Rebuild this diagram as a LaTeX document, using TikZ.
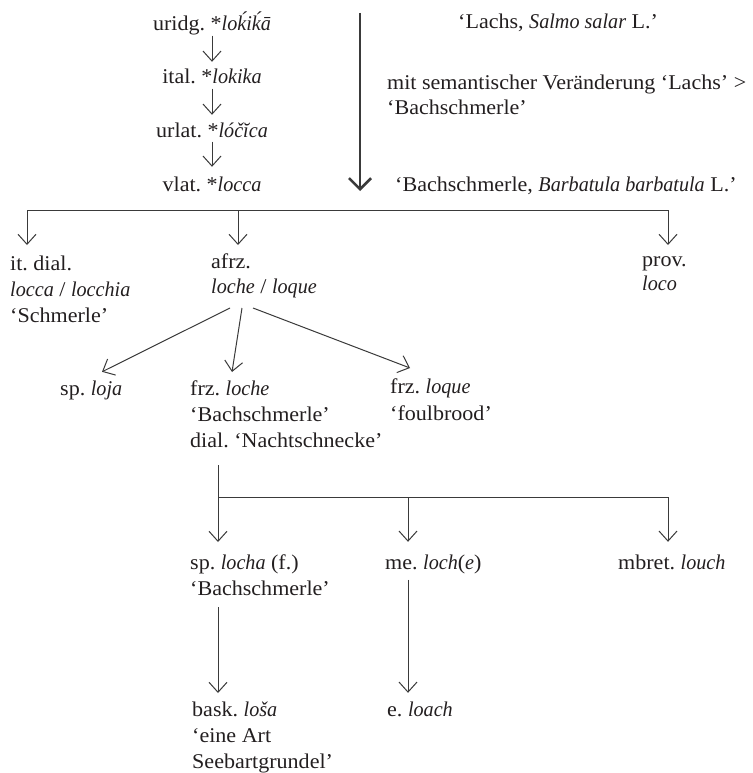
\documentclass[tikz,border=0pt]{standalone}
\usepackage{fontspec}
\setmainfont{Liberation Serif}[UprightFeatures={FakeStretch=1.05},ItalicFeatures={FakeStretch=0.96}]
\usetikzlibrary{arrows.meta,calc}
\definecolor{ink}{HTML}{231F20}
\definecolor{linec}{HTML}{3A3A3A}
\newcommand\mystrut{\rule{0pt}{14.5pt}}
\frenchspacing
\begin{document}
\begin{tikzpicture}[x=1pt,y=-1pt,
  lbl/.style={inner sep=0pt, text=ink, font=\fontsize{21}{26}\selectfont\frenchspacing, align=left},
  tl/.style={lbl, anchor=north west, execute at begin node=\mystrut},
  bl/.style={lbl, anchor=base west, text height=14pt, text depth=4.5pt},
  bc/.style={lbl, anchor=base, text height=14pt, text depth=4.5pt},
  arr/.style={draw=linec, line width=1pt, -{Straight Barb[length=10pt,width=18pt]}},
  ln/.style={draw=linec, line width=1pt},
  bigarr/.style={draw=linec, line width=2.6pt, -{Straight Barb[length=11pt,width=22pt]}}]
\fill[white] (0,0) rectangle (752,773);
\useasboundingbox (0,0) rectangle (752,773);

% top chain
\node[bc] (uridg) at (212,31) {uridg. *\textit{loḱiḱā}};
\node[bc] (ital)  at (212,84) {ital. *\textit{lokika}};
\node[bc] (urlat) at (212,137) {urlat. *\textit{lóčĭca}};
\node[bc] (vlat)  at (212,191) {vlat. *\textit{locca}};

\draw[arr, shorten >=8pt] (uridg.south) -- (ital.north);
\draw[arr, shorten >=8pt] (ital.south) -- (urlat.north);
\draw[arr, shorten >=10pt] (urlat.south) -- (vlat.north);

% right column
\node[bl] (lachs) at (458,29) {‘Lachs, \textit{Salmo salar} L.’};
\node[tl] (mit) at (387,74.5) {mit semantischer Veränderung ‘Lachs’ >\\[-1pt]‘Bachschmerle’};
\node[bl] (bachb) at (395,191) {‘Bachschmerle, \textit{Barbatula barbatula} L.’};
\coordinate (bt) at (360,13);
\coordinate (bb) at (360,191);
\draw[bigarr] (bt) -- (bb);

% first level
\node[tl] (itdial) at (10,255.5) {it. dial.\\\textit{locca} / \textit{locchia}\\‘Schmerle’};
\node[tl] (afrz) at (211,253.5) {afrz.\\[-1pt]\textit{loche} / \textit{loque}};
\node[tl] (prov) at (642,256.5) {prov.\\[-2pt]\textit{loco}};

\coordinate (b1l) at (27,210);
\coordinate (b1m) at (238,210);
\coordinate (b1r) at (668,210);
\draw[arr, shorten >=10.5pt] (b1m) -| (b1l |- itdial.north);
\draw[arr, shorten >=11.5pt] (b1m) -| (b1r |- prov.north);
\draw[arr, shorten >=8.5pt] (b1m) -- (b1m |- afrz.north);

% second level
\node[bl] (sploja) at (60,395) {sp. \textit{loja}};
\node[tl] (frzloche) at (190,380.5) {frz. \textit{loche}\\‘Bachschmerle’\\dial. ‘Nachtschnecke’};
\node[tl] (frzloque) at (390,379) {frz. \textit{loque}\\[1pt]‘foulbrood’};

\draw[arr] ($(afrz.north west)+(19,54.5)$) -- ($(sploja.north west)+(42,-9)$);
\draw[arr] ($(afrz.north west)+(31,54.5)$) -- ($(frzloche.north west)+(42,-8.5)$);
\draw[arr] ($(afrz.north west)+(42,54.5)$) -- ($(frzloque.north west)+(20,-11)$);

% third level
\node[tl] (splocha) at (190,554.5) {sp. \textit{locha} (f.)\\‘Bachschmerle’};
\node[bl] (meloch) at (385,569) {me. \textit{loch}(\textit{e})};
\node[bl] (mbret) at (618,569) {mbret. \textit{louch}};

\coordinate (s0) at ($(frzloche.north west)+(28,84.5)$);
\coordinate (b2l) at (218,497);
\coordinate (b2m) at (408,497);
\coordinate (b2r) at (668,497);
\draw[ln] (s0) -- (b2l);
\draw[arr, shorten >=12.5pt] (b2m) -| (b2l |- splocha.north);
\draw[arr, shorten >=13pt] (b2m) -| (b2r |- mbret.north);
\draw[arr, shorten >=13pt] (b2m) -- (b2m |- meloch.north);

% fourth level
\node[tl] (bask) at (192,701.5) {bask. \textit{loša}\\‘eine Art\\Seebartgrundel’};
\node[bl] (eloach) at (387,716) {e. \textit{loach}};

\coordinate (s1) at ($(splocha.north west)+(28,52.5)$);
\coordinate (s2) at ($(meloch.north west)+(23,25)$);
\draw[arr, shorten >=8.5pt] (s1) -- (s1 |- bask.north);
\draw[arr, shorten >=9pt] (s2) -- (s2 |- eloach.north);
\end{tikzpicture}
\end{document}
